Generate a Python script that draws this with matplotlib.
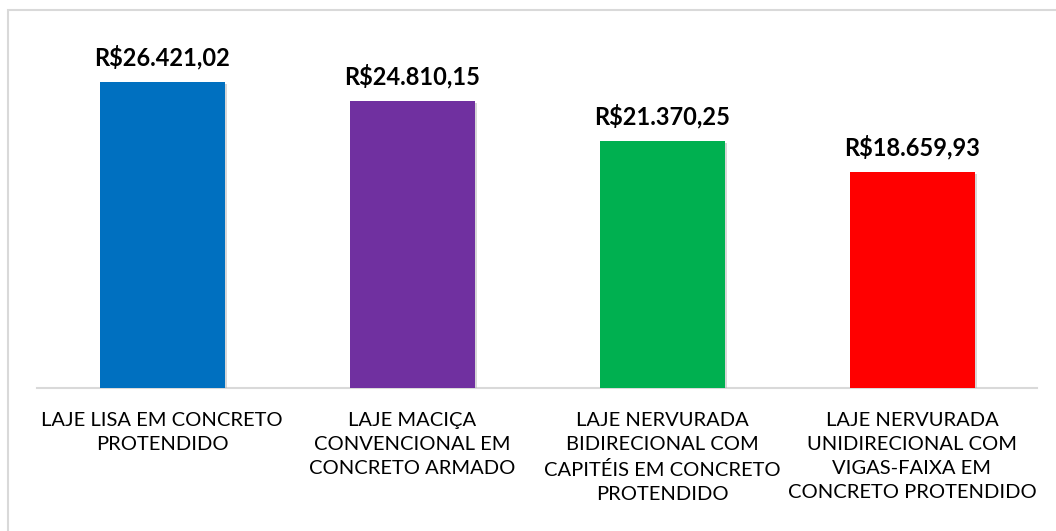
import matplotlib.pyplot as plt
import matplotlib.patheffects as pe
from matplotlib.patches import Rectangle

# custo por tipo de laje
categorias = [
    "LAJE LISA EM CONCRETO\nPROTENDIDO",
    "LAJE MACIÇA\nCONVENCIONAL EM\nCONCRETO ARMADO",
    "LAJE NERVURADA\nBIDIRECIONAL COM\nCAPITÉIS EM CONCRETO\nPROTENDIDO",
    "LAJE NERVURADA\nUNIDIRECIONAL COM\nVIGAS-FAIXA EM\nCONCRETO PROTENDIDO",
]
custos = [26421.02, 24810.15, 21370.25, 18659.93]
rotulos = ["R$26.421,02", "R$24.810,15", "R$21.370,25", "R$18.659,93"]
cores = ["#0070C0", "#7030A0", "#00B050", "#FF0000"]

plt.rcParams['font.family'] = ['Lato', 'DejaVu Sans']

fig = plt.figure(figsize=(10.56, 5.31), dpi=100)
ax = fig.add_axes([37/1056, 1 - 388/531, 1000/1056, 378/531])

x = range(len(categorias))
barras = ax.bar(x, custos, width=0.5, color=cores, zorder=3)
for b in barras:
    b.set_path_effects([pe.SimplePatchShadow(offset=(1.5, -1.5), shadow_rgbFace='#b0b0b0', alpha=0.5), pe.Normal()])

for xi, v, r in zip(x, custos, rotulos):
    ax.annotate(r, (xi, v), xytext=(0, 9), textcoords='offset points',
                ha='center', va='bottom', fontsize=17, fontweight='bold', color='black')

ax.set_xlim(-0.5, 3.5)
ax.set_ylim(0, 32640)
ax.set_yticks([])
ax.set_xticks(list(x))
ax.set_xticklabels(categorias, fontsize=14.5, linespacing=1.52)
ax.tick_params(axis='x', length=0, pad=17)
for s in ['top', 'right', 'left']:
    ax.spines[s].set_visible(False)
ax.spines['bottom'].set_color('#D9D9D9')
ax.spines['bottom'].set_linewidth(1.5)

# moldura do gráfico
fig.patches.append(Rectangle((8/1056, -0.1), 1.2, (531 - 10)/531 + 0.1,
                             transform=fig.transFigure, fill=False,
                             edgecolor='#D9D9D9', linewidth=1.5))

fig.savefig('out.png', dpi=100)
